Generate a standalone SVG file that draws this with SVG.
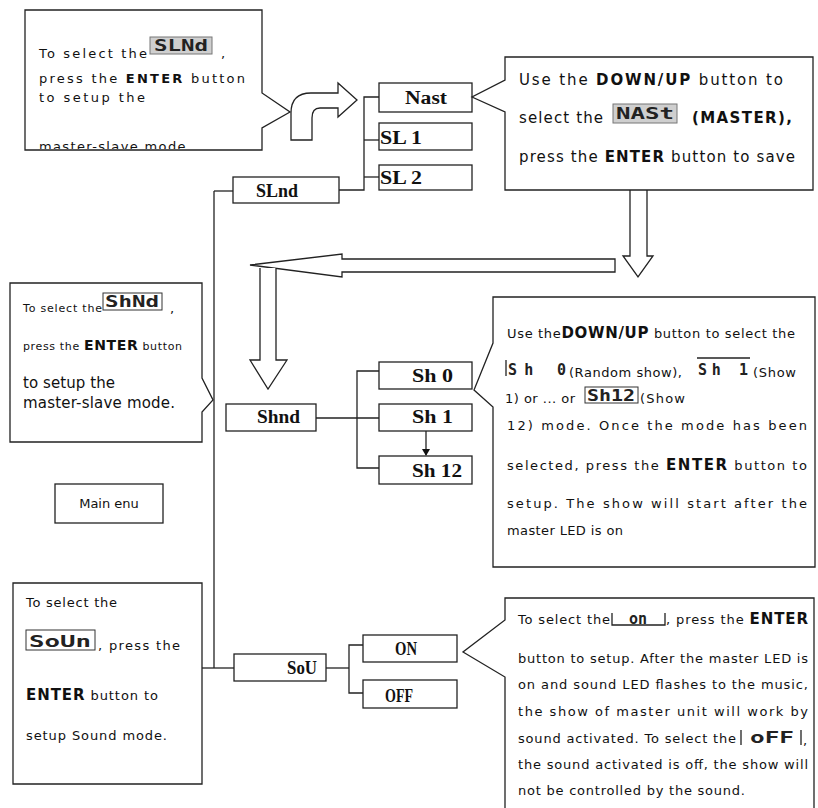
<svg xmlns="http://www.w3.org/2000/svg" width="818" height="808" viewBox="0 0 818 808">
<style>
.s{fill:#fff;stroke:#222;stroke-width:1.3}
.ln{fill:none;stroke:#222;stroke-width:1.3}
.t{font-family:"DejaVu Sans","Liberation Sans",sans-serif;font-size:13px;fill:#111}
.sm{font-size:11px}
.big{font-size:15px}
.b{font-weight:bold}
.n{font-family:"Liberation Serif",serif;font-weight:bold;font-size:18px;fill:#111}
.lcd{font-family:"DejaVu Sans Mono",monospace;font-weight:bold;font-size:15px;fill:#222}
.lg{fill:#cfcfcf;stroke:#777;stroke-width:1}
.lw{fill:#fff;stroke:#333;stroke-width:1}
</style>
<defs>
<marker id="ah" markerWidth="8" markerHeight="8" refX="6" refY="4" orient="auto" markerUnits="userSpaceOnUse">
<path d="M0,0 L7,4 L0,8 Z" fill="#111"/>
</marker>
<clipPath id="clipTL"><rect x="25" y="10" width="237" height="139"/></clipPath>
</defs>

<g id="connectors">
<path class="ln" d="M214,191 V668"/>
<path class="ln" d="M214,191 H233"/>
<path class="ln" d="M339,190 H364 V97 H379"/>
<path class="ln" d="M364,140 H379"/>
<path class="ln" d="M364,177 H379"/>
<path class="ln" d="M316,418 H379"/>
<path class="ln" d="M379,371 H357 V468 H379"/>
<path class="ln" d="M426,431 V455" marker-end="url(#ah)"/>
<path class="ln" d="M202,668 H234"/>
<path class="ln" d="M326,668 H349"/>
<path class="ln" d="M363,645 H349 V693 H363"/>
</g>

<g id="arrows">
<path class="s" d="M291,140 V113 Q291,93 311,93 H338 V83 L357,100 L338,117 V108 H320 Q312,108 312,118 V140 Z"/>
<path class="s" d="M630,190 V256 H623 L638,277 L653,256 H647 V190"/>
<path class="s" d="M615,259 H342 V254 L250,265 L342,277 V272 H615 Z"/>
<path class="s" d="M260,268 V360 H250 L268,389 L287,360 H276 V268"/>
</g>

<g id="note-slnd">
<path class="s" d="M25,10 H262 V93 L290,112 L262,128 V150 H25 Z"/>
<text class="t" x="39" y="58" font-size="14" textLength="108" lengthAdjust="spacing">To select the</text>
<rect class="lg" x="150" y="37" width="62" height="17"/>
<text class="lcd" x="181" y="51" text-anchor="middle" textLength="54" lengthAdjust="spacingAndGlyphs">SLNd</text>
<text class="t" x="221" y="58">,</text>
<text class="t" x="39" y="83" font-size="14" textLength="206" lengthAdjust="spacing">press the <tspan class="b">ENTER</tspan> button</text>
<text class="t" x="39" y="102" font-size="14" textLength="106" lengthAdjust="spacing">to setup the</text>
<text class="t" x="39" y="151" font-size="14" textLength="152" lengthAdjust="spacing" clip-path="url(#clipTL)">master-slave mode.</text>
</g>

<g id="node-nast">
<rect class="s" x="379" y="83" width="93" height="29"/>
<text class="n" x="405" y="104" textLength="42" lengthAdjust="spacingAndGlyphs">Nast</text>
</g>
<g id="node-sl1">
<rect class="s" x="379" y="123" width="93" height="27"/>
<text class="n" x="380" y="144" textLength="42" lengthAdjust="spacingAndGlyphs">SL 1</text>
</g>
<g id="node-sl2">
<rect class="s" x="379" y="165" width="93" height="25"/>
<text class="n" x="380" y="184" textLength="42" lengthAdjust="spacingAndGlyphs">SL 2</text>
</g>
<g id="node-slnd">
<rect class="s" x="233" y="177" width="106" height="26"/>
<text class="n" x="256" y="197" textLength="42" lengthAdjust="spacingAndGlyphs">SLnd</text>
</g>

<g id="note-master">
<path class="s" d="M505,57 H813 V190 H505 V112 L472,97 L505,80 Z"/>
<text class="t big" x="519" y="85" textLength="264" lengthAdjust="spacing">Use the <tspan class="b">DOWN/UP</tspan> button to</text>
<text class="t big" x="519" y="123" textLength="84" lengthAdjust="spacing">select the</text>
<rect class="lg" x="613" y="104" width="64" height="19"/>
<text class="lcd" x="645" y="119" text-anchor="middle" font-size="17" textLength="58" lengthAdjust="spacingAndGlyphs">NASt</text>
<text class="t big b" x="692" y="123" textLength="100" lengthAdjust="spacing">(MASTER),</text>
<text class="t big" x="519" y="162" textLength="276" lengthAdjust="spacing">press the <tspan class="b">ENTER</tspan> button to save</text>
</g>

<g id="note-shnd">
<path class="s" d="M10,283 H202 V378 L213,400 L202,412 V442 H10 Z"/>
<text class="t sm" x="23" y="312" textLength="79" lengthAdjust="spacing">To select the</text>
<rect class="lw" x="103" y="293" width="59" height="17"/>
<text class="lcd" x="132" y="307" text-anchor="middle" textLength="54" lengthAdjust="spacingAndGlyphs">ShNd</text>
<text class="t" x="170" y="313">,</text>
<text class="t sm" x="23" y="350" textLength="159" lengthAdjust="spacing">press the <tspan class="b" font-size="14">ENTER</tspan> button</text>
<text class="t big" x="23" y="388" textLength="92" lengthAdjust="spacing">to setup the</text>
<text class="t big" x="23" y="408" textLength="152" lengthAdjust="spacing">master-slave mode.</text>
</g>

<g id="node-shnd">
<rect class="s" x="226" y="404" width="90" height="27"/>
<text class="n" x="257" y="423" textLength="43" lengthAdjust="spacingAndGlyphs">Shnd</text>
</g>
<g id="node-sh0">
<rect class="s" x="379" y="362" width="93" height="27"/>
<text class="n" x="412" y="382" textLength="41" lengthAdjust="spacingAndGlyphs">Sh 0</text>
</g>
<g id="node-sh1">
<rect class="s" x="379" y="404" width="93" height="27"/>
<text class="n" x="412" y="423" textLength="41" lengthAdjust="spacingAndGlyphs">Sh 1</text>
</g>
<g id="node-sh12">
<rect class="s" x="379" y="456" width="93" height="28"/>
<text class="n" x="412" y="477" textLength="50" lengthAdjust="spacingAndGlyphs">Sh 12</text>
</g>

<g id="note-show">
<path class="s" d="M493,297 H815 V567 H493 V407 L474,390 L493,343 Z"/>
<text class="t" x="507" y="338" textLength="288" lengthAdjust="spacing">Use the<tspan class="b" font-size="15">DOWN/UP</tspan> button to select the</text>
<path class="ln" d="M506,360 V376"/>
<text class="lcd" x="508" y="375" textLength="58" lengthAdjust="spacing">Sh 0</text>
<text class="t" x="569" y="377" font-size="12" textLength="113" lengthAdjust="spacing">(Random show),</text>
<path class="ln" d="M697,358 H750"/>
<text class="lcd" x="698" y="375" textLength="50" lengthAdjust="spacing">Sh 1</text>
<text class="t" x="753" y="377" font-size="12" textLength="43" lengthAdjust="spacing">(Show</text>
<text class="t" x="505" y="403" font-size="12" textLength="70" lengthAdjust="spacing">1) or ... or</text>
<rect class="lw" x="585" y="387" width="53" height="16"/>
<text class="lcd" x="611" y="401" text-anchor="middle" textLength="48" lengthAdjust="spacingAndGlyphs">Sh12</text>
<text class="t" x="640" y="403" font-size="12" textLength="45" lengthAdjust="spacing">(Show</text>
<text class="t" x="507" y="430" textLength="300" lengthAdjust="spacing">12) mode. Once the mode has been</text>
<text class="t" x="507" y="470" textLength="300" lengthAdjust="spacing">selected, press the <tspan class="b" font-size="15">ENTER</tspan> button to</text>
<text class="t" x="507" y="508" textLength="300" lengthAdjust="spacing">setup. The show will start after the</text>
<text class="t" x="507" y="535" textLength="116" lengthAdjust="spacing">master LED is on</text>
</g>

<g id="node-mainmenu">
<rect class="s" x="55" y="484" width="108" height="39"/>
<text class="t" x="109" y="508" text-anchor="middle">Main enu</text>
</g>

<g id="note-soun">
<path class="s" d="M13,583 H202 V784 H13 Z"/>
<text class="t" x="26" y="607" textLength="91" lengthAdjust="spacing">To select the</text>
<rect class="lw" x="26" y="630" width="69" height="20"/>
<text class="lcd" x="60" y="647" text-anchor="middle" font-size="17" textLength="62" lengthAdjust="spacingAndGlyphs">SoUn</text>
<text class="t" x="98" y="650" textLength="82" lengthAdjust="spacing">, press the</text>
<text class="t" x="26" y="700" textLength="132" lengthAdjust="spacing"><tspan class="b" font-size="15">ENTER</tspan> button to</text>
<text class="t" x="26" y="740" textLength="141" lengthAdjust="spacing">setup Sound mode.</text>
</g>

<g id="node-sou">
<rect class="s" x="234" y="654" width="92" height="27"/>
<text class="n" x="287" y="674" textLength="30" lengthAdjust="spacingAndGlyphs">SoU</text>
</g>
<g id="node-on">
<rect class="s" x="363" y="635" width="94" height="27"/>
<text class="n" x="395" y="655" textLength="22" lengthAdjust="spacingAndGlyphs">ON</text>
</g>
<g id="node-off">
<rect class="s" x="363" y="680" width="94" height="28"/>
<text class="n" x="385" y="702" textLength="28" lengthAdjust="spacingAndGlyphs">OFF</text>
</g>

<g id="note-sound">
<path class="s" d="M505,598 H814 V812 H505 V677 L463,652 L505,620 Z"/>
<text class="t" x="518" y="624" textLength="92" lengthAdjust="spacing">To select the</text>
<path class="ln" d="M612,613 V625 H665 V613"/>
<text class="lcd" x="638" y="624" text-anchor="middle" font-size="13">on</text>
<text class="t" x="666" y="624" textLength="142" lengthAdjust="spacing">, press the <tspan class="b" font-size="15">ENTER</tspan></text>
<text class="t" x="518" y="663" textLength="290" lengthAdjust="spacing">button to setup. After the master LED is</text>
<text class="t" x="518" y="689" textLength="290" lengthAdjust="spacing">on and sound LED flashes to the music,</text>
<text class="t" x="518" y="716" textLength="290" lengthAdjust="spacing">the show of master unit will work by</text>
<text class="t" x="518" y="743" textLength="218" lengthAdjust="spacing">sound activated. To select the</text>
<path class="ln" d="M741,730 V745 M801,730 V745"/>
<text class="lcd" x="772" y="743" text-anchor="middle" textLength="44" lengthAdjust="spacingAndGlyphs">oFF</text>
<text class="t" x="803" y="745">,</text>
<text class="t" x="518" y="769" textLength="290" lengthAdjust="spacing">the sound activated is off, the show will</text>
<text class="t" x="518" y="795" textLength="227" lengthAdjust="spacing">not be controlled by the sound.</text>
</g>
</svg>
